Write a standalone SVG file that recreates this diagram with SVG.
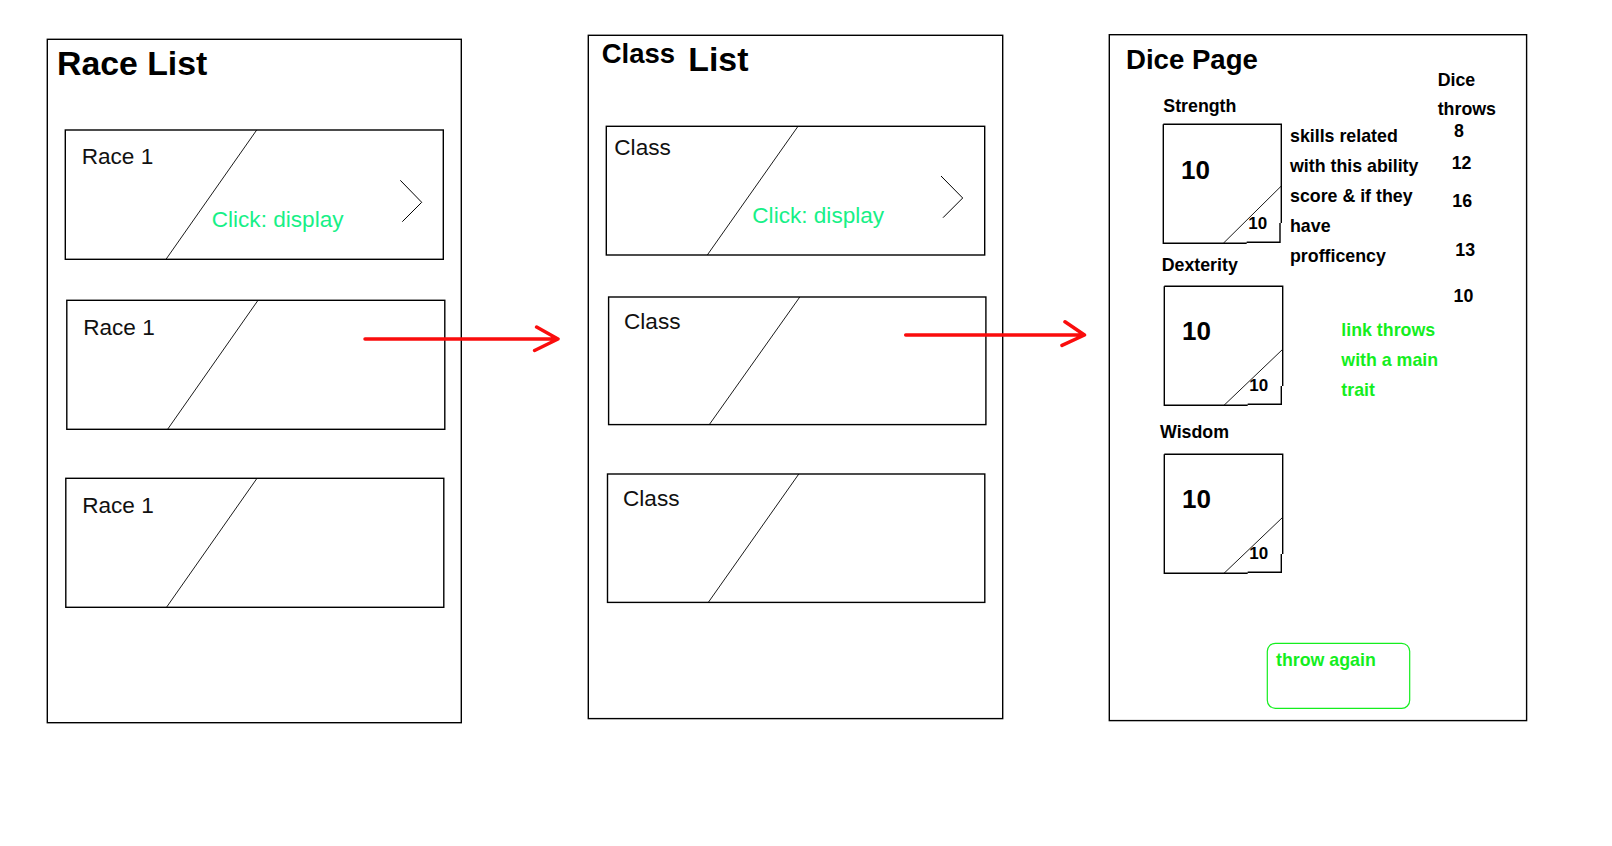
<svg xmlns="http://www.w3.org/2000/svg" width="1612" height="846" viewBox="0 0 1612 846">
<style>
text{font-family:"Liberation Sans",Arial,sans-serif;}
.page{fill:#fff;stroke:#000;stroke-width:1.4;}
.card{fill:#fff;stroke:#000;stroke-width:1.4;}
.box{fill:none;stroke:#000;stroke-width:1.4;}
.diag{stroke:#000;stroke-width:0.9;fill:none;}
.chev{stroke:#000;stroke-width:1;fill:none;}
.title{font-weight:bold;font-size:33.8px;fill:#000;}
.lbl{font-size:22.6px;fill:#111;}
.click{font-size:22.6px;fill:#17f087;}
.b{font-weight:bold;font-size:17.8px;fill:#000;}
.big{font-weight:bold;font-size:26px;fill:#000;}
.sm{font-weight:bold;font-size:17px;fill:#000;}
.g{font-weight:bold;font-size:17.8px;fill:#14ee1e;}
.arrow{stroke:#fa0d0d;stroke-width:3.5;fill:none;stroke-linecap:round;stroke-linejoin:round;}
</style>
<rect width="1612" height="846" fill="#fff"/>

<g id="race-list">
<rect class="page" x="47.3" y="39.3" width="414" height="683.4"/>
<text class="title" x="57" y="75">Race List</text>
<g id="race-card-1">
<rect class="card" x="65.3" y="130" width="378" height="129.3"/>
<line class="diag" x1="256.7" y1="130" x2="166" y2="259.3"/>
<text class="lbl" x="81.7" y="164.3">Race 1</text>
<text class="click" x="211.7" y="227.3">Click: display</text>
<polyline class="chev" points="400.3,180.3 421.7,202.3 402.3,221.7"/>
</g>
<g id="race-card-2">
<rect class="card" x="66.8" y="300.3" width="378" height="129"/>
<line class="diag" x1="258" y1="300.3" x2="167.6" y2="429.3"/>
<text class="lbl" x="83.2" y="334.6">Race 1</text>
</g>
<g id="race-card-3">
<rect class="card" x="65.8" y="478.3" width="378" height="129"/>
<line class="diag" x1="257" y1="478.3" x2="166.5" y2="607.3"/>
<text class="lbl" x="82.2" y="512.6">Race 1</text>
</g>
</g>

<g id="class-list">
<rect class="page" x="588.3" y="35.3" width="414.4" height="683.3"/>
<text x="601.7" y="63.3" style="font-weight:bold;font-size:27.5px;fill:#000">Class</text>
<text class="title" x="688.3" y="71">List</text>
<g id="class-card-1">
<rect class="card" x="606.3" y="126.3" width="378.4" height="128.7"/>
<line class="diag" x1="798" y1="126.3" x2="707.3" y2="255"/>
<text class="lbl" x="614.3" y="155">Class</text>
<text class="click" x="752.3" y="223.3">Click: display</text>
<polyline class="chev" points="941,176 962.7,198 943,217.7"/>
</g>
<g id="class-card-2">
<rect class="card" x="608.6" y="297" width="377.3" height="127.6"/>
<line class="diag" x1="799.8" y1="297" x2="709.3" y2="424.6"/>
<text class="lbl" x="624" y="328.5">Class</text>
</g>
<g id="class-card-3">
<rect class="card" x="607.5" y="474" width="377.3" height="128.4"/>
<line class="diag" x1="798.8" y1="474" x2="708.3" y2="602.4"/>
<text class="lbl" x="623" y="505.5">Class</text>
</g>
</g>

<g id="dice-page">
<rect class="page" x="1109.3" y="34.7" width="417.3" height="685.9"/>
<text x="1126" y="69" style="font-weight:bold;font-size:27.6px;fill:#000">Dice Page</text>

<text class="b" x="1163.3" y="111.7">Strength</text>
<g id="strength-box">
<path class="box" d="M1163.3,124.3 H1281.3 V223 M1280,223 V242.3 H1246.7 M1246.7,243.3 H1163.3 V124.3"/>
<line class="diag" x1="1281.3" y1="186" x2="1223.3" y2="243.3"/>
<text class="big" x="1181" y="178.7">10</text>
<text class="sm" x="1248.3" y="228.7">10</text>
</g>

<text class="b" x="1161.7" y="270.7">Dexterity</text>
<g id="dexterity-box">
<path class="box" d="M1164.3,286.3 H1282.7 V386 M1281.3,386 V404.3 H1247.7 M1247.7,405.3 H1164.3 V286.3"/>
<line class="diag" x1="1282.7" y1="349.3" x2="1224" y2="405.3"/>
<text class="big" x="1182" y="340.3">10</text>
<text class="sm" x="1249.3" y="391">10</text>
</g>

<text class="b" x="1160" y="438.3">Wisdom</text>
<g id="wisdom-box">
<path class="box" d="M1164.3,454.3 H1282.7 V554 M1281.3,554 V572.3 H1247.7 M1247.7,573.3 H1164.3 V454.3"/>
<line class="diag" x1="1282.7" y1="517.3" x2="1224" y2="573.3"/>
<text class="big" x="1182" y="508.3">10</text>
<text class="sm" x="1249.3" y="559">10</text>
</g>

<g id="skills-note">
<text class="b" x="1290" y="141.7">skills related</text>
<text class="b" x="1290" y="171.7">with this ability</text>
<text class="b" x="1290" y="201.7">score &amp; if they</text>
<text class="b" x="1290" y="231.7">have</text>
<text class="b" x="1290" y="261.7">profficency</text>
</g>

<g id="dice-throws">
<text class="b" x="1437.7" y="85.7">Dice</text>
<text class="b" x="1437.7" y="115">throws</text>
<text class="b" x="1454" y="136.7">8</text>
<text class="b" x="1451.7" y="169.3">12</text>
<text class="b" x="1452.3" y="206.7">16</text>
<text class="b" x="1455.3" y="256">13</text>
<text class="b" x="1453.6" y="302">10</text>
</g>

<g id="link-note">
<text class="g" x="1341.3" y="336">link throws</text>
<text class="g" x="1341.3" y="366">with a main</text>
<text class="g" x="1341.3" y="396">trait</text>
</g>

<g id="throw-again">
<rect x="1267.3" y="643.3" width="142.4" height="65" rx="8" ry="8" fill="none" stroke="#14ee1e" stroke-width="1.2"/>
<text class="g" x="1276" y="666">throw again</text>
</g>
</g>

<g id="connectors">
<path class="arrow" d="M365,339 H558 M536.6,327 L558,339 L534.6,350.5"/>
<path class="arrow" d="M905.7,335 H1084.5 M1065,321.8 L1084.5,335 L1062,345.4"/>
</g>
</svg>
